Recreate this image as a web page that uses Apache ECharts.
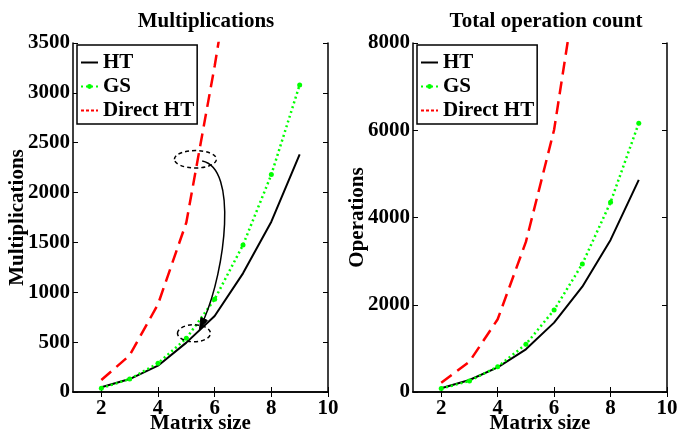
<!DOCTYPE html>
<html>
<head>
<meta charset="utf-8">
<script src="https://cdn.jsdelivr.net/npm/echarts@6/dist/echarts.min.js"></script>
<style>
    body{margin:0;background:#fff;}
    #chart{width:677px;height:433px;}
</style>
</head>
<body>
<div id="chart"></div>
<script>
    // matrix sizes and counts
    var matrixSize = [2, 3, 4, 5, 6, 7, 8, 9];
    var xTicks = [2, 4, 6, 8, 10];
    var multHT = [48, 130, 264, 495, 762, 1190, 1708, 2384];
    var multGS = [38, 130, 288, 538, 930, 1474, 2180, 3080];
    var multDirect = [120, 368, 880, 1700, 3270, 5000];
    var opsHT = [85, 275, 566, 978, 1590, 2415, 3486, 4862];
    var opsGS = [80, 252, 580, 1094, 1880, 2935, 4350, 6163];
    var opsDirect = [213, 695, 1667, 3440, 6010, 10200];
    var seriesNames = ['HT', 'GS', 'Direct HT'];

    // annotation on the left panel, in data units
    var ring1 = [5.32, 2334];
    var ring2 = [5.27, 589];
    var arrowPts = [[5.56, 2317], [6.83, 2247], [6.37, 1224], [5.46, 622]];

    var font = 'Liberation Serif';

    function pairs(ys){
        var out = [];
        for (var i = 0; i < ys.length; i++) {
            out.push([matrixSize[i], ys[i]]);
        }
        return out;
    }

    function htSeries(ys, idx){
        return {
            name: 'HT', type: 'line', xAxisIndex: idx, yAxisIndex: idx,
            symbol: 'none',
            lineStyle: {color: '#000', width: 2},
            itemStyle: {color: '#000'},
            data: pairs(ys)
        };
    }
    function gsSeries(ys, idx){
        return {
            name: 'GS', type: 'line', xAxisIndex: idx, yAxisIndex: idx,
            symbol: 'circle', symbolSize: 5,
            lineStyle: {color: '#00ff00', width: 2.5, type: [2, 3]},
            itemStyle: {color: '#00ff00'},
            data: pairs(ys)
        };
    }
    function directSeries(ys, idx){
        return {
            name: 'Direct HT', type: 'line', xAxisIndex: idx, yAxisIndex: idx,
            symbol: 'none',
            lineStyle: {color: '#ff0000', width: 2.5, type: [13, 7]},
            itemStyle: {color: '#ff0000'},
            data: pairs(ys)
        };
    }

    var labelStyle = {color: '#000', fontFamily: font, fontWeight: 'bold', fontSize: 21};
    var plain = function (v) { return String(v); };

    function xAxes(gi){
        return [{
            type: 'value', gridIndex: gi, min: 1, max: 10,
            name: 'Matrix size', nameLocation: 'middle', nameGap: 21, nameMoveOverlap: false,
            nameTextStyle: labelStyle,
            axisLine: {show: true, lineStyle: {color: '#000', width: 1.5}},
            axisTick: {show: true, inside: true, length: 5, customValues: xTicks, lineStyle: {color: '#000'}},
            axisLabel: Object.assign({margin: 6, customValues: xTicks, formatter: plain}, labelStyle),
            splitLine: {show: false}
        }, {
            type: 'value', gridIndex: gi, min: 1, max: 10, position: 'top',
            axisLine: {show: true, lineStyle: {color: '#000', width: 1.5}},
            axisTick: {show: true, inside: true, length: 5, customValues: xTicks, lineStyle: {color: '#000'}},
            axisLabel: {show: false},
            splitLine: {show: false}
        }];
    }
    function yAxes(gi, max, step, name){
        return [{
            type: 'value', gridIndex: gi, min: 0, max: max, interval: step,
            name: name, nameLocation: 'middle', nameGap: 45, nameMoveOverlap: false,
            nameTextStyle: labelStyle,
            axisLine: {show: true, lineStyle: {color: '#000', width: 1.5}},
            axisTick: {show: true, inside: true, length: 5, lineStyle: {color: '#000'}},
            axisLabel: Object.assign({margin: 3, formatter: plain}, labelStyle),
            splitLine: {show: false}
        }, {
            type: 'value', gridIndex: gi, min: 0, max: max, interval: step, position: 'right',
            axisLine: {show: true, lineStyle: {color: '#000', width: 1.5}},
            axisTick: {show: true, inside: true, length: 5, lineStyle: {color: '#000'}},
            axisLabel: {show: false},
            splitLine: {show: false}
        }];
    }
    function legendAt(left){
        return {
            left: left, top: 45, orient: 'vertical',
            // hide the default round marker except for GS, which has dots
            data: [
                {name: 'HT', itemStyle: {opacity: 0}},
                {name: 'GS'},
                {name: 'Direct HT', itemStyle: {opacity: 0}, lineStyle: {type: [3, 2]}}
            ],
            backgroundColor: '#fff', borderColor: '#000', borderWidth: 1.5,
            padding: [7, 3, 3, 3], itemGap: 3,
            itemWidth: 17, itemHeight: 6,
            selectedMode: false,
            textStyle: labelStyle
        };
    }

    var xa = xAxes(0).concat(xAxes(1));
    var ya = yAxes(0, 3500, 500, 'Multiplications').concat(yAxes(1, 8000, 2000, 'Operations'));

    var el = document.getElementById('chart');
    var myChart = echarts.init(el);
    var option = {
        backgroundColor: '#fff',
        animation: false,
        title: [
            {text: 'Multiplications', left: 201, top: 6, textAlign: 'center',
                textStyle: {color: '#000', fontFamily: font, fontWeight: 'bold', fontSize: 21}},
            {text: 'Total operation count', left: 541, top: 6, textAlign: 'center',
                textStyle: {color: '#000', fontFamily: font, fontWeight: 'bold', fontSize: 21}}
        ],
        legend: [legendAt(77), legendAt(417)],
        grid: [
            {left: 73, top: 43, width: 255, height: 349, outerBoundsMode: 'none'},
            {left: 413, top: 43, width: 254, height: 349, outerBoundsMode: 'none'}
        ],
        xAxis: xa,
        yAxis: ya,
        series: [
            htSeries(multHT, 0), gsSeries(multGS, 0), directSeries(multDirect, 0),
            // second panel uses axes 2 (bottom x / left y)
            htSeries(opsHT, 2), gsSeries(opsGS, 2), directSeries(opsDirect, 2)
        ]
    };
    myChart.setOption(option);

    // ellipses and curved arrow placed from data coordinates
    function px(p){
        return myChart.convertToPixel({seriesIndex: 0}, p);
    }
    var c1 = px(ring1), c2 = px(ring2);
    var a0 = px(arrowPts[0]), a1 = px(arrowPts[1]), a2 = px(arrowPts[2]), a3 = px(arrowPts[3]);
    var dx = a3[0] - a2[0], dy = a3[1] - a2[1];
    var len = Math.sqrt(dx * dx + dy * dy);
    var ux = dx / len, uy = dy / len;
    var headLen = 12, headW = 3.5;
    var bx = a3[0] - ux * headLen, by = a3[1] - uy * headLen;
    var dashStyle = {stroke: '#000', fill: null, lineWidth: 1.5, lineDash: [4, 3]};

    myChart.setOption({
        graphic: [
            {type: 'ellipse', z: 100, shape: {cx: c1[0], cy: c1[1], rx: 21, ry: 8.7}, style: dashStyle},
            {type: 'ellipse', z: 100, shape: {cx: c2[0], cy: c2[1], rx: 16.5, ry: 8.5}, style: dashStyle},
            {type: 'bezierCurve', z: 100,
                shape: {x1: a0[0], y1: a0[1], cpx1: a1[0], cpy1: a1[1], cpx2: a2[0], cpy2: a2[1],
                    x2: bx, y2: by},
                style: {stroke: '#000', fill: null, lineWidth: 1.5}},
            {type: 'polygon', z: 100,
                shape: {points: [
                    [a3[0], a3[1]],
                    [bx - uy * headW, by + ux * headW],
                    [bx + uy * headW, by - ux * headW]
                ]},
                style: {fill: '#000', stroke: '#000', lineWidth: 1}}
        ]
    });
</script>
</body>
</html>
